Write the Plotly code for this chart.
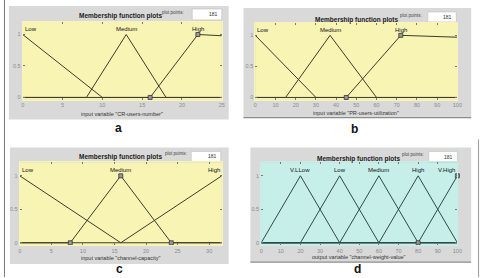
import plotly.graph_objects as go

W, H = 487, 278

# ---------------- DATA ----------------
A_XRANGE = [0, 25]
A_XTICKS = [0, 5, 10, 15, 20, 25]
A_MF_NAMES = ["Low", "Medium", "High"]
A_MF_X = [[0, 10, 25], [0, 8, 13, 18, 25], [0, 16, 22, 25]]
A_MF_Y = [[1, 0, 0], [0, 0, 1, 0, 0], [0, 0, 1, 0.98]]
A_LABEL_X = [0, 13, 22]
A_SEL_X = [16, 22]
A_SEL_Y = [0, 1]
A_VAR = 'input variable "CR-users-number"'

B_XRANGE = [0, 100]
B_XTICKS = [0, 10, 20, 30, 40, 50, 60, 70, 80, 90, 100]
B_MF_NAMES = ["Low", "Medium", "High"]
B_MF_X = [[0, 30, 100], [0, 15, 37, 60, 100], [0, 45, 72, 100]]
B_MF_Y = [[1, 0, 0], [0, 0, 1, 0, 0], [0, 0, 1, 0.97]]
B_LABEL_X = [0, 37, 72]
B_SEL_X = [45, 72]
B_SEL_Y = [0, 1]
B_VAR = 'input variable "PR-users-utilization"'

C_XRANGE = [0, 32]
C_XTICKS = [0, 5, 10, 15, 20, 25, 30]
C_MF_NAMES = ["Low", "Medium", "High"]
C_MF_X = [[0, 16, 32], [0, 8, 16, 24, 32], [0, 16, 32]]
C_MF_Y = [[1, 0, 0], [0, 0, 1, 0, 0], [0, 0, 1]]
C_LABEL_X = [0, 16, 32]
C_SEL_X = [8, 16, 24]
C_SEL_Y = [0, 1, 0]
C_VAR = 'input variable "channel-capacity"'

D_XRANGE = [0, 100]
D_XTICKS = [0, 10, 20, 30, 40, 50, 60, 70, 80, 90, 100]
D_MF_NAMES = ["V.LLow", "Low", "Medium", "High", "V.High"]
D_MF_X = [[0, 20, 40, 100], [0, 20, 40, 60, 100], [0, 40, 60, 80, 100],
          [0, 60, 80, 100], [0, 80, 100]]
D_MF_Y = [[0, 1, 0, 0], [0, 0, 1, 0, 0], [0, 0, 1, 0, 0],
          [0, 0, 1, 0], [0, 0, 1]]
D_LABEL_X = [20, 40, 60, 80, 100]
D_SEL_X = [80, 100]
D_SEL_Y = [0, 1]
D_VAR = 'output variable "channel-weight-value"'

PLOT_POINTS = "181"
TITLE = "Membership function plots"
PANEL_LETTERS = ["a", "b", "c", "d"]

# ---------------- LAYOUT (pixel geometry) ----------------
def px(x):
    return x / W

def py(y):
    return 1 - y / H

panels = [
    dict(data=(A_XRANGE, A_XTICKS, A_MF_NAMES, A_MF_X, A_MF_Y, A_LABEL_X, A_SEL_X, A_SEL_Y, A_VAR),
         plot=(21, 223, 22, 100), gray=(7, 230, 6, 120), bg="#f8f4b4", line="#3c3c2c",
         title=(120, 16), pp=(174, 13), box=(193, 223, 9, 20), tick_y=107, var_y=114,
         letter=(118, 128), shadow=False),
    dict(data=(B_XRANGE, B_XTICKS, B_MF_NAMES, B_MF_X, B_MF_Y, B_LABEL_X, B_SEL_X, B_SEL_Y, B_VAR),
         plot=(257, 462, 23, 100), gray=(245, 476, 8, 118), bg="#f8f4b4", line="#3c3c2c",
         title=(360, 20), pp=(415, 16), box=(432, 461, 12, 22), tick_y=106, var_y=113,
         letter=(358, 129), shadow=True),
    dict(data=(C_XRANGE, C_XTICKS, C_MF_NAMES, C_MF_X, C_MF_Y, C_LABEL_X, C_SEL_X, C_SEL_Y, C_VAR),
         plot=(18, 223, 163, 246), gray=(8, 230, 148, 265), bg="#f8f4b4", line="#3c3c2c",
         title=(120, 158), pp=(177, 154), box=(192, 222, 152, 162), tick_y=253, var_y=259,
         letter=(119, 270), shadow=False),
    dict(data=(D_XRANGE, D_XTICKS, D_MF_NAMES, D_MF_X, D_MF_Y, D_LABEL_X, D_SEL_X, D_SEL_Y, D_VAR),
         plot=(263, 462, 163, 246), gray=(252, 476, 148, 263), bg="#c6efe9", line="#2c4a46",
         title=(362, 160), pp=(417, 155), box=(433, 462, 152, 163), tick_y=253, var_y=258,
         letter=(361, 270), shadow=True),
]

fig = go.Figure()
shapes = []
annotations = []
layout_axes = {}

YRANGE = [-0.035, 1.2]
FONT = "Liberation Sans, Arial, sans-serif"

# outer frame lines
shapes.append(dict(type="line", xref="paper", yref="paper", x0=px(2.5), x1=px(2.5), y0=0, y1=1,
                   line=dict(color="#777777", width=1), layer="below"))
shapes.append(dict(type="line", xref="paper", yref="paper", x0=px(483.5), x1=px(483.5),
                   y0=py(278), y1=py(140), line=dict(color="#999999", width=1), layer="below"))

for i, p in enumerate(panels, start=1):
    xr, xt, names, mfx, mfy, labx, selx, sely, var = p["data"]
    xa = "x" if i == 1 else f"x{i}"
    ya = "y" if i == 1 else f"y{i}"
    xkey = "xaxis" if i == 1 else f"xaxis{i}"
    ykey = "yaxis" if i == 1 else f"yaxis{i}"
    x0, x1, y0, y1 = p["plot"]
    gx0, gx1, gy0, gy1 = p["gray"]

    # gray panel
    shapes.append(dict(type="rect", xref="paper", yref="paper", x0=px(gx0), x1=px(gx1),
                       y0=py(gy1), y1=py(gy0), fillcolor="#d9d9d9", line=dict(width=0), layer="below"))
    if p["shadow"]:
        shapes.append(dict(type="line", xref="paper", yref="paper", x0=px(gx0), x1=px(gx1),
                           y0=py(gy1), y1=py(gy1), line=dict(color="#8c8c8c", width=1.2), layer="below"))
    # plot background
    shapes.append(dict(type="rect", xref=f"{xa} domain", yref=f"{ya} domain", x0=0, x1=1, y0=0, y1=1,
                       fillcolor=p["bg"], line=dict(width=0), layer="below"))
    # plot points box
    bx0, bx1, by0, by1 = p["box"]
    shapes.append(dict(type="rect", xref="paper", yref="paper", x0=px(bx0), x1=px(bx1),
                       y0=py(by1), y1=py(by0), fillcolor="white",
                       line=dict(color="#bdbdbd", width=0.6), layer="below"))

    layout_axes[xkey] = dict(domain=[px(x0), px(x1)], range=xr, tickvals=xt,
                             ticktext=[str(v) for v in xt], anchor=ya,
                             showgrid=False, zeroline=False, ticks="inside", ticklen=2,
                             tickcolor="#777777", tickwidth=0.8, showline=True, linecolor=p["bg"],
                             mirror="ticks", tickfont=dict(size=5.5, color="#8a8a8a", family=FONT),
                             fixedrange=True)
    layout_axes[ykey] = dict(domain=[py(y1), py(y0)], range=YRANGE, tickvals=[0, 0.5, 1],
                             ticktext=["0", "0.5", "1"], anchor=xa,
                             showgrid=False, zeroline=False, ticks="inside", ticklen=2,
                             tickcolor="#777777", tickwidth=0.8, showline=True, linecolor=p["bg"],
                             mirror="ticks", tickfont=dict(size=5.5, color="#8a8a8a", family=FONT),
                             fixedrange=True)

    for nm, xs, ys in zip(names, mfx, mfy):
        fig.add_trace(go.Scatter(x=xs, y=ys, mode="lines", xaxis=xa, yaxis=ya, name=nm,
                                 line=dict(color=p["line"], width=1), showlegend=False,
                                 hoverinfo="skip", cliponaxis=True))
    fig.add_trace(go.Scatter(x=selx, y=sely, mode="markers", xaxis=xa, yaxis=ya,
                             marker=dict(symbol="square", size=4, color="#9a9a9a",
                                         line=dict(color="#333333", width=0.8)),
                             showlegend=False, hoverinfo="skip", cliponaxis=False))

    # MF labels
    n = len(names)
    for k, (nm, lx) in enumerate(zip(names, labx)):
        if lx == xr[0]:
            anc = "left"
        elif lx == xr[1] and k == n - 1 and (i in (3, 4)):
            anc = "right"
        else:
            anc = "center"
        annotations.append(dict(x=lx, y=1.09, xref=xa, yref=ya, text=nm, showarrow=False,
                                xanchor=anc, yanchor="middle",
                                font=dict(size=6, color="#111111", family=FONT)))

    tx, ty = p["title"]
    annotations.append(dict(x=px(tx), y=py(ty), xref="paper", yref="paper", text=f"<b>{TITLE}</b>",
                            showarrow=False, xanchor="center", yanchor="middle",
                            font=dict(size=6.5, color="#222222", family=FONT)))
    ppx, ppy = p["pp"]
    annotations.append(dict(x=px(ppx), y=py(ppy), xref="paper", yref="paper", text="plot points:",
                            showarrow=False, xanchor="center", yanchor="middle",
                            font=dict(size=4.5, color="#444444", family=FONT)))
    annotations.append(dict(x=px(bx1 - 2), y=py((by0 + by1) / 2), xref="paper", yref="paper",
                            text=PLOT_POINTS, showarrow=False, xanchor="right", yanchor="middle",
                            font=dict(size=5, color="#333333", family=FONT)))
    annotations.append(dict(x=px((x0 + x1) / 2), y=py(p["var_y"]), xref="paper", yref="paper",
                            text=var, showarrow=False, xanchor="center", yanchor="middle",
                            font=dict(size=5.5, color="#333333", family=FONT)))
    lx_, ly_ = p["letter"]
    annotations.append(dict(x=px(lx_), y=py(ly_), xref="paper", yref="paper",
                            text=f"<b>{PANEL_LETTERS[i-1]}</b>", showarrow=False,
                            xanchor="center", yanchor="middle",
                            font=dict(size=12, color="#111111", family=FONT)))

fig.update_layout(width=W, height=H, margin=dict(l=0, r=0, t=0, b=0),
                  paper_bgcolor="white", plot_bgcolor="rgba(0,0,0,0)",
                  shapes=shapes, annotations=annotations, showlegend=False,
                  **layout_axes)

fig.write_html("out.html", config={"displayModeBar": False})
